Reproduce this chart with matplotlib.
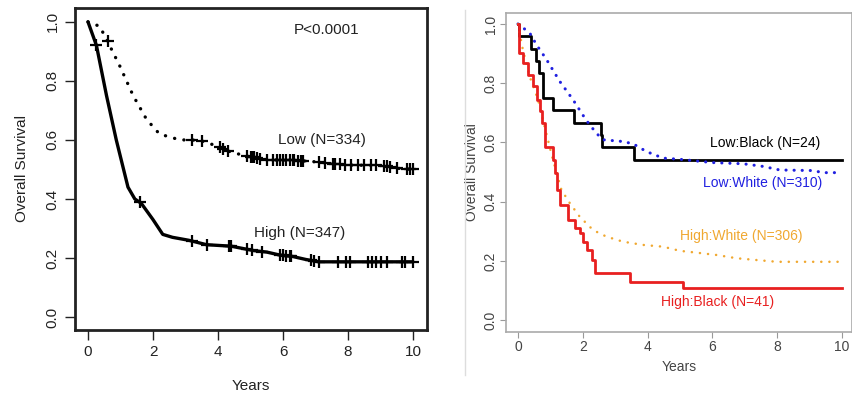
import numpy as np
import matplotlib
matplotlib.use("Agg")
import matplotlib.pyplot as plt
from matplotlib.lines import Line2D

plt.rcParams['font.family'] = ['Liberation Sans', 'DejaVu Sans']

# ---- left panel: High vs Low ----
high_t = [0, 0.26, 0.57, 0.87, 1.23, 1.44, 1.64, 2.0, 2.3, 2.6, 3.1, 3.65, 4.4, 5.1, 5.5, 5.9, 6.3, 6.7, 7.1, 10.0]
high_s = [1.0, 0.92, 0.75, 0.60, 0.44, 0.40, 0.385, 0.33, 0.28, 0.27, 0.26, 0.245, 0.24, 0.225, 0.22, 0.21, 0.205, 0.195, 0.187, 0.187]
high_cens = [0.25, 1.6, 3.2, 3.65, 4.35, 4.4, 4.9, 5.05, 5.35, 5.9, 6.0, 6.1, 6.2, 6.25, 6.85, 6.95,
             7.1, 7.7, 7.95, 8.05, 8.6, 8.75, 8.85, 9.0, 9.2, 9.65, 9.75, 10.0]

low_t = [0, 0.36, 0.62, 0.98, 1.39, 1.8, 2.2, 2.83, 3.2, 3.55, 4.0, 4.37, 4.88, 5.5, 6.5, 7.1, 7.97, 9.1, 9.5, 10.0]
low_s = [1.0, 0.985, 0.93, 0.85, 0.75, 0.67, 0.62, 0.60, 0.60, 0.595, 0.578, 0.56, 0.545, 0.533, 0.53, 0.525, 0.515, 0.513, 0.504, 0.50]
low_cens = [0.6, 3.2, 3.5, 4.05, 4.15, 4.3, 4.9, 5.0, 5.05, 5.1, 5.2, 5.3, 5.5, 5.7, 5.8, 5.9, 6.0, 6.1,
            6.2, 6.3, 6.35, 6.45, 6.55, 6.6, 7.1, 7.3, 7.55, 7.6, 7.75, 7.9, 8.1, 8.3, 8.5, 8.7, 8.85,
            9.1, 9.2, 9.3, 9.5, 9.8, 9.9, 10.0]

# ---- right panel: by group ----
lb_t = [0, 0.02, 0.41, 0.57, 0.65, 0.77, 1.08, 1.72, 2.57, 2.6, 3.57, 10.0]
lb_s = [1.0, 0.958, 0.917, 0.875, 0.833, 0.75, 0.708, 0.667, 0.625, 0.583, 0.542, 0.542]

lw_t = [0, 0.36, 0.57, 0.88, 1.29, 1.7, 2.1, 2.42, 2.63, 3.25, 3.56, 3.97, 4.48, 5.0, 6.0, 6.95, 7.57, 8.08, 9.1, 9.42, 10.0]
lw_s = [1.0, 0.97, 0.93, 0.88, 0.806, 0.744, 0.676, 0.631, 0.609, 0.603, 0.595, 0.569, 0.547, 0.543, 0.532, 0.528, 0.519, 0.507, 0.505, 0.498, 0.498]

hw_t = [0, 0.15, 0.36, 0.62, 0.82, 1.08, 1.34, 1.6, 1.9, 2.32, 2.73, 3.24, 3.86, 4.48, 5.0, 5.5, 6.13, 6.75, 7.36, 8.0, 10.0]
hw_s = [1.0, 0.913, 0.823, 0.744, 0.654, 0.541, 0.44, 0.395, 0.35, 0.304, 0.282, 0.265, 0.254, 0.248, 0.234, 0.228, 0.22, 0.209, 0.203, 0.197, 0.197]

hb_t = [0, 0.02, 0.15, 0.3, 0.45, 0.6, 0.68, 0.75, 0.82, 1.08, 1.13, 1.2, 1.3, 1.54, 1.75, 1.91, 2.02, 2.12, 2.28, 2.38, 3.46, 5.1, 10.0]
hb_s = [1.0, 0.902, 0.868, 0.829, 0.79, 0.744, 0.705, 0.665, 0.586, 0.541, 0.496, 0.44, 0.389, 0.338, 0.31, 0.294, 0.265, 0.236, 0.203, 0.159, 0.13, 0.108, 0.108]

grp_labels = ["Low:Black (N=24)", "Low:White (N=310)", "High:White (N=306)", "High:Black (N=41)"]
grp_colors = ["black", "#2020e0", "#f0a830", "#e82020"]
grp_label_xy = [(7.62, 0.598), (7.56, 0.463), (6.9, 0.284), (6.15, 0.061)]

fig = plt.figure(figsize=(8.53, 4.0), dpi=100)

# left
ax1 = fig.add_axes([75/853, 1-330/400, 352/853, 322/400])
ax1.plot(high_t, high_s, color='black', lw=2.4, solid_capstyle='round')
ax1.plot(low_t, low_s, color='black', lw=2.4, linestyle=(0, (0.05, 2.8)), dash_capstyle='round')
ax1.plot(high_cens, np.interp(high_cens, high_t, high_s), '+', color='black', ms=9, mew=1.6)
ax1.plot(low_cens, np.interp(low_cens, low_t, low_s), '+', color='black', ms=9, mew=1.6)
ax1.text(7.35, 0.973, "P<0.0001", ha='center', va='center', fontsize=11, color='#222')
ax1.text(7.2, 0.60, "Low (N=334)", ha='center', va='center', fontsize=11, color='#222')
ax1.text(6.5, 0.285, "High (N=347)", ha='center', va='center', fontsize=11, color='#222')
ax1.set_xlim(-0.4, 10.43)
ax1.set_ylim(-0.044, 1.047)
ax1.set_xticks([0, 2, 4, 6, 8, 10])
ax1.set_yticks([0.0, 0.2, 0.4, 0.6, 0.8, 1.0])
ax1.set_yticklabels(["0.0", "0.2", "0.4", "0.6", "0.8", "1.0"], rotation=90, va='center')
ax1.tick_params(direction='out', length=7, width=1, labelsize=11, colors='#222', pad=4)
for sp in ax1.spines.values():
    sp.set_linewidth(2)
    sp.set_color('#222')
ax1.set_xlabel("Years", fontsize=11, color='#222', labelpad=14)
ax1.set_ylabel("Overall Survival", fontsize=11, color='#222', labelpad=12)

# right
ax2 = fig.add_axes([506/853, 1-332/400, 346/853, 319/400])
ax2.step(lb_t, lb_s, where='post', color=grp_colors[0], lw=2)
ax2.plot(lw_t, lw_s, color=grp_colors[1], lw=2.2, linestyle=(0, (0.05, 2.6)), dash_capstyle='round')
ax2.plot(hw_t, hw_s, color=grp_colors[2], lw=1.8, linestyle=(0, (0.05, 3.2)), dash_capstyle='round')
ax2.step(hb_t, hb_s, where='post', color=grp_colors[3], lw=2)
for lab, col, (tx, ty) in zip(grp_labels, grp_colors, grp_label_xy):
    ax2.text(tx, ty, lab, ha='center', va='center', fontsize=10, color=col)
ax2.set_xlim(-0.37, 10.31)
ax2.set_ylim(-0.04, 1.037)
ax2.set_xticks([0, 2, 4, 6, 8, 10])
ax2.set_yticks([0.0, 0.2, 0.4, 0.6, 0.8, 1.0])
ax2.set_yticklabels(["0.0", "0.2", "0.4", "0.6", "0.8", "1.0"], rotation=90, va='center')
ax2.tick_params(direction='out', length=4, width=0.8, labelsize=10, colors='#444', pad=2)
ax2.tick_params(color='#999')
for sp in ax2.spines.values():
    sp.set_linewidth(1.2)
    sp.set_color('#aaa')
ax2.set_xlabel("Years", fontsize=10, color='#444', labelpad=4)
ax2.set_ylabel("Overall Survival", fontsize=10, color='#444', labelpad=3)

# faint frame line at the left of the second image
fig.add_artist(Line2D([465/853, 465/853], [1-375/400, 1-10/400], color='#ddd', lw=1))

fig.savefig("out.png", dpi=100)
